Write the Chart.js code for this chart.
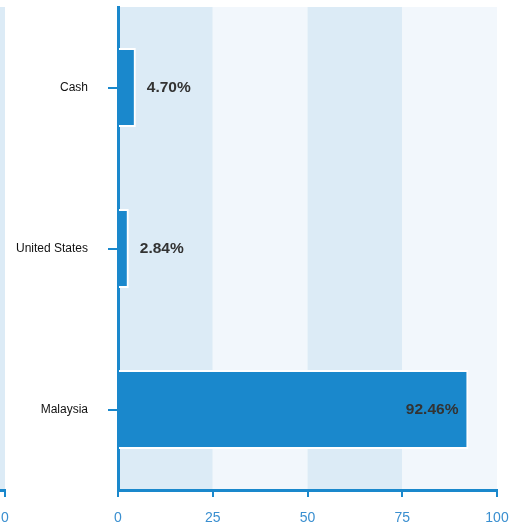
<!doctype html>
<html lang="en">
<head>
<meta charset="utf-8">
<script src="https://cdn.jsdelivr.net/npm/chart.js@4.4.1/dist/chart.umd.min.js"></script>
<style>
  * { box-sizing: border-box; }
  html, body { margin: 0; padding: 0; background: #ffffff; overflow: hidden; }
  .stage { position: relative; width: 512px; height: 527px; }
  .main { position: absolute; left: 0; top: 0; width: 512px; height: 527px; }
  .side { position: absolute; left: -402px; top: 0; width: 411px; height: 527px; }
</style>
</head>
<body>
<div class="stage">
  <div class="side"><canvas id="sideChart"></canvas></div>
  <div class="main"><canvas id="mainChart"></canvas></div>
</div>
<script>
var categories = ['Cash', 'United States', 'Malaysia'];
var weights = [4.70, 2.84, 92.46];
var xTicks = [0, 25, 50, 75, 100];

var BLUE = '#1a88cc';
var BAND_DARK = '#dcebf6';
var BAND_LIGHT = '#f2f7fc';

// alternating background columns between the x ticks
var bandsPlugin = {
  id: 'bands',
  beforeDraw: function (chart) {
    var ctx = chart.ctx;
    var area = chart.chartArea;
    var x = chart.scales.x;
    ctx.save();
    for (var i = 0; i < xTicks.length - 1; i++) {
      var a = x.getPixelForValue(xTicks[i]);
      var b = x.getPixelForValue(xTicks[i + 1]);
      ctx.fillStyle = i % 2 === 0 ? BAND_DARK : BAND_LIGHT;
      ctx.fillRect(Math.min(a, b), area.top, Math.abs(b - a), area.bottom - area.top);
    }
    ctx.restore();
  }
};

var valueLabels = {
  id: 'valueLabels',
  afterDatasetsDraw: function (chart) {
    var ctx = chart.ctx;
    var meta = chart.getDatasetMeta(0);
    ctx.save();
    ctx.font = 'bold 15.5px "Liberation Sans", Arial, sans-serif';
    ctx.fillStyle = '#333333';
    ctx.textBaseline = 'middle';
    meta.data.forEach(function (bar, i) {
      var text = weights[i].toFixed(2) + '%';
      if (weights[i] > 50) {
        ctx.textAlign = 'right';
        ctx.fillText(text, bar.x - 10, bar.y);
      } else {
        ctx.textAlign = 'left';
        ctx.fillText(text, bar.x + 11, bar.y);
      }
    });
    ctx.restore();
  }
};

function xAxis(reverse) {
  return {
    type: 'linear',
    min: 0,
    max: 100,
    reverse: reverse,
    afterBuildTicks: function (scale) {
      scale.ticks = xTicks.map(function (v) { return { value: v }; });
    },
    afterFit: function (scale) {
      scale.height = 37;
      scale.paddingLeft = 0;
      scale.paddingRight = 0;
    },
    border: { display: true, color: BLUE, width: 3 },
    grid: { drawOnChartArea: false, drawTicks: true, tickLength: 7, color: BLUE, lineWidth: 2 },
    ticks: {
      color: '#3a8fd0',
      padding: 13,
      font: { size: 14, family: '"Liberation Sans", Arial, sans-serif' }
    }
  };
}

new Chart(document.getElementById('mainChart'), {
  type: 'bar',
  data: {
    labels: categories,
    datasets: [{
      data: weights,
      backgroundColor: BLUE,
      borderColor: '#ffffff',
      borderWidth: 2,
      barPercentage: 0.49,
      categoryPercentage: 1
    }]
  },
  options: {
    indexAxis: 'y',
    responsive: true,
    maintainAspectRatio: false,
    animation: false,
    layout: { padding: { top: 7, right: 15, left: 0, bottom: 0 } },
    plugins: { legend: { display: false }, tooltip: { enabled: false } },
    scales: {
      x: xAxis(false),
      y: {
        afterFit: function (scale) {
          scale.width = 118;
          scale.paddingTop = 0;
          scale.paddingBottom = 0;
        },
        border: { display: true, color: BLUE, width: 3 },
        grid: { offset: false, drawOnChartArea: false, drawTicks: true, tickLength: 10, color: BLUE, lineWidth: 2 },
        ticks: {
          color: '#111111',
          padding: 20,
          font: { size: 12, family: '"Liberation Sans", Arial, sans-serif' }
        }
      }
    }
  },
  plugins: [bandsPlugin, valueLabels]
});

// edge of the neighbouring mirrored panel, only its right end is in view
new Chart(document.getElementById('sideChart'), {
  type: 'bar',
  data: { labels: categories, datasets: [{ data: [], backgroundColor: BLUE }] },
  options: {
    indexAxis: 'y',
    responsive: true,
    maintainAspectRatio: false,
    animation: false,
    layout: { padding: { top: 7, right: 4, left: 0, bottom: 0 } },
    plugins: { legend: { display: false }, tooltip: { enabled: false } },
    scales: {
      x: xAxis(true),
      y: { display: false }
    }
  },
  plugins: [bandsPlugin]
});
</script>
</body>
</html>
